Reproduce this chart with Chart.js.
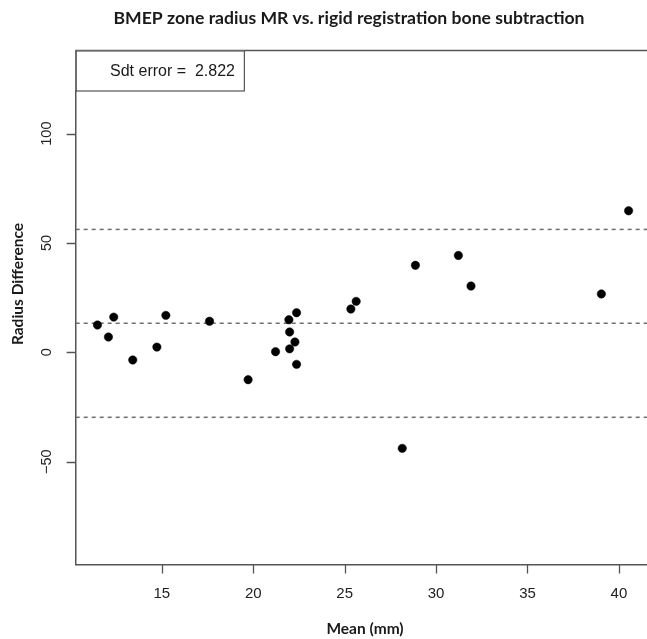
<!DOCTYPE html>
<html>
<head>
<meta charset="utf-8">
<script src="https://cdn.jsdelivr.net/npm/chart.js@4.4.0/dist/chart.umd.min.js"></script>
<style>
  html, body { margin: 0; padding: 0; background: #fff; overflow: hidden; }
  #wrap { width: 660px; height: 639px; }
</style>
</head>
<body>
<div id="wrap"><canvas id="chart" width="660" height="639"></canvas></div>
<script>
// Values
const meanValues = [11.48, 12.08, 12.37, 13.41, 14.73, 15.22, 17.61, 19.72, 21.22, 21.95, 21.99, 21.99, 22.28, 22.37, 22.37, 25.34, 25.63, 28.15, 28.87, 31.22, 31.91, 39.04, 40.53];
const diffValues = [12.5, 7.0, 16.1, -3.5, 2.4, 16.9, 14.2, -12.5, 0.3, 14.9, 9.3, 1.6, 4.7, 18.1, -5.5, 19.8, 23.3, -43.9, 39.8, 44.3, 30.3, 26.7, 64.7];
const limitLines = [56.2, 13.3, -29.7]; // upper limit, mean difference, lower limit
const xTicks = [15, 20, 25, 30, 35, 40];
const yTicks = [-50, 0, 50, 100];
const xRange = [10.29, 41.7];
const yRange = [-97, 138];
const sdtLabel = 'Sdt error =  2.822';

const AXIS = '#555';
const TEXT = '#1a1a1a';

const points = meanValues.map((m, i) => ({ x: m, y: diffValues[i] }));

const limitSets = limitLines.map(v => ({
    data: [{ x: xRange[0], y: v }, { x: xRange[1], y: v }],
    showLine: true,
    borderColor: '#6e6e6e',
    borderWidth: 1.5,
    borderDash: [4, 4],
    pointRadius: 0,
    fill: false
}));

// Extra text, tick marks and frame, R style
const decor = {
    id: 'decor',
    afterDraw(chart) {
        const { ctx, chartArea: a, scales: { x, y } } = chart;
        ctx.save();

        // top side of the box
        ctx.strokeStyle = AXIS;
        ctx.lineWidth = 1.5;
        ctx.beginPath();
        ctx.moveTo(a.left, a.top);
        ctx.lineTo(a.right, a.top);
        ctx.stroke();

        // tick marks
        ctx.strokeStyle = '#555';
        ctx.lineWidth = 1.3;
        ctx.beginPath();
        xTicks.forEach(v => {
            const px = Math.round(x.getPixelForValue(v)) + 0.5;
            ctx.moveTo(px, a.bottom);
            ctx.lineTo(px, a.bottom + 9);
        });
        yTicks.forEach(v => {
            const py = Math.round(y.getPixelForValue(v)) + 0.5;
            ctx.moveTo(a.left, py);
            ctx.lineTo(a.left - 9, py);
        });
        ctx.stroke();

        // legend box
        ctx.strokeStyle = '#333';
        ctx.lineWidth = 1;
        ctx.fillStyle = '#fff';
        ctx.fillRect(a.left, a.top, 168.6, 40.5);
        ctx.strokeRect(a.left + 0.5, a.top + 0.5, 168.1, 40);
        ctx.fillStyle = TEXT;
        ctx.font = '16px "Liberation Sans", Arial, sans-serif';
        ctx.textAlign = 'right';
        ctx.textBaseline = 'middle';
        ctx.fillText(sdtLabel, 235, 71.7);

        // title
        ctx.font = 'bold 17.6px Lato, "Open Sans", sans-serif';
        ctx.textAlign = 'center';
        ctx.fillText('BMEP zone radius MR vs. rigid registration bone subtraction', 349, 18);

        // x axis title
        ctx.font = 'bold 15.5px Lato, "Open Sans", sans-serif';
        ctx.fillText('Mean (mm)', 365, 629);

        // y axis title
        ctx.save();
        ctx.translate(17.5, 284);
        ctx.rotate(-Math.PI / 2);
        ctx.fillText('Radius Difference', 0, 0);
        ctx.restore();

        // y tick labels, rotated like R's default
        ctx.font = '14.5px "Liberation Sans", Arial, sans-serif';
        ctx.fillStyle = '#222';
        yTicks.forEach(v => {
            ctx.save();
            ctx.translate(47, y.getPixelForValue(v));
            ctx.rotate(-Math.PI / 2);
            ctx.fillText(v < 0 ? '\u2212' + Math.abs(v) : String(v), 0, 0);
            ctx.restore();
        });

        ctx.restore();
    }
};

new Chart(document.getElementById('chart'), {
    type: 'scatter',
    data: {
        datasets: [
            {
                data: points,
                backgroundColor: '#000',
                borderColor: '#000',
                borderWidth: 0.5,
                pointRadius: 4.2
            },
            ...limitSets
        ]
    },
    options: {
        responsive: false,
        animation: false,
        layout: { padding: { top: 50.5, right: 10, bottom: 0, left: 0 } },
        plugins: {
            legend: { display: false },
            tooltip: { enabled: false },
            title: { display: false }
        },
        scales: {
            x: {
                type: 'linear',
                min: xRange[0],
                max: xRange[1],
                afterBuildTicks: s => { s.ticks = xTicks.map(v => ({ value: v })); },
                afterFit: s => { s.height = 74.5; },
                border: { display: true, color: AXIS, width: 1.5 },
                grid: { display: false },
                ticks: {
                    color: '#222',
                    padding: 12,
                    maxRotation: 0,
                    font: { family: '"Liberation Sans", Arial, sans-serif', size: 15 }
                }
            },
            y: {
                type: 'linear',
                min: yRange[0],
                max: yRange[1],
                afterBuildTicks: s => { s.ticks = yTicks.map(v => ({ value: v })); },
                afterFit: s => { s.width = 75.7; },
                border: { display: true, color: AXIS, width: 1.5 },
                grid: { display: false },
                ticks: { display: false }
            }
        }
    },
    plugins: [decor]
});
</script>
</body>
</html>
